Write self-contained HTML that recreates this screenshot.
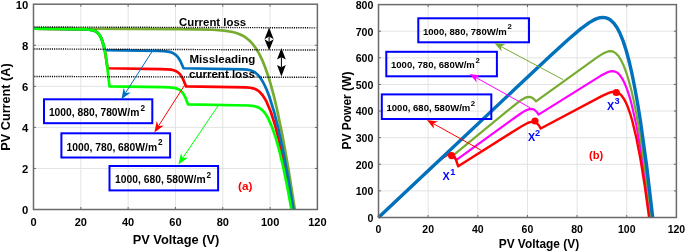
<!DOCTYPE html>
<html><head><meta charset="utf-8"><style>
html,body{margin:0;padding:0;background:#fff;width:685px;height:251px;overflow:hidden;}
svg text{font-family:"Liberation Sans",sans-serif;}
</style></head><body>
<svg width="685" height="251" viewBox="0 0 685 251" style="position:absolute;left:0;top:0;will-change:transform">
<rect width="685" height="251" fill="#fff"/>
<line x1="80.82" y1="4.2" x2="80.82" y2="209.5" stroke="#e3e3e3" stroke-width="1"/>
<line x1="128.13" y1="4.2" x2="128.13" y2="209.5" stroke="#e3e3e3" stroke-width="1"/>
<line x1="175.45" y1="4.2" x2="175.45" y2="209.5" stroke="#e3e3e3" stroke-width="1"/>
<line x1="222.77" y1="4.2" x2="222.77" y2="209.5" stroke="#e3e3e3" stroke-width="1"/>
<line x1="270.08" y1="4.2" x2="270.08" y2="209.5" stroke="#e3e3e3" stroke-width="1"/>
<line x1="33.5" y1="168.44" x2="317.4" y2="168.44" stroke="#e3e3e3" stroke-width="1"/>
<line x1="33.5" y1="127.38" x2="317.4" y2="127.38" stroke="#e3e3e3" stroke-width="1"/>
<line x1="33.5" y1="86.32" x2="317.4" y2="86.32" stroke="#e3e3e3" stroke-width="1"/>
<line x1="33.5" y1="45.26" x2="317.4" y2="45.26" stroke="#e3e3e3" stroke-width="1"/>
<path d="M33.50,28.49 L181.15,29.21 L212.56,29.74 L224.07,30.55 L232.67,31.96 L236.37,32.97 L239.68,34.20 L242.74,35.68 L245.61,37.45 L249.36,40.48 L252.85,44.20 L256.12,48.66 L259.22,53.92 L262.22,60.11 L265.14,67.27 L268.01,75.47 L270.83,84.73 L273.69,95.35 L276.55,107.22 L282.38,135.14 L288.44,169.11 L294.81,209.50" fill="none" stroke="#77AC30" stroke-width="2.7" stroke-linejoin="round"/>
<path d="M33.50,28.54 L84.96,29.37 L91.39,29.97 L93.64,30.53 L95.56,31.34 L97.69,32.86 L99.52,35.03 L101.13,37.96 L102.57,41.75 L103.92,46.58 L105.18,52.53 L107.53,68.26 L160.47,69.07 L166.96,69.30 L171.02,69.69 L173.75,70.27 L176.03,71.15 L177.99,72.37 L179.77,74.03 L181.44,76.23 L183.02,78.98 L186.01,86.37 L246.12,87.41 L249.97,87.75 L253.08,88.35 L255.67,89.28 L257.97,90.59 L260.25,92.51 L262.41,95.00 L264.53,98.14 L266.61,101.95 L270.77,111.77 L274.92,124.59 L279.14,140.59 L283.44,159.96 L287.89,182.87 L292.50,209.50" fill="none" stroke="#FF0000" stroke-width="2.7" stroke-linejoin="round"/>
<path d="M33.50,28.54 L81.44,29.26 L87.77,29.53 L91.76,30.04 L94.29,30.76 L96.37,31.82 L98.16,33.32 L99.70,35.31 L101.11,37.92 L102.40,41.22 L104.71,50.16 L157.40,50.96 L163.77,51.20 L167.81,51.59 L170.64,52.19 L172.95,53.07 L174.99,54.31 L176.85,55.98 L178.64,58.19 L180.33,60.94 L183.55,68.26 L243.23,69.30 L247.21,69.67 L250.23,70.27 L252.81,71.19 L255.15,72.53 L257.66,74.66 L260.06,77.48 L262.42,81.06 L264.75,85.44 L267.07,90.66 L269.38,96.74 L273.98,111.45 L278.63,129.85 L283.38,152.11 L288.30,178.58 L293.44,209.50" fill="none" stroke="#0072BD" stroke-width="2.7" stroke-linejoin="round"/>
<path d="M33.50,28.54 L86.36,29.44 L90.06,29.76 L92.86,30.30 L95.05,31.08 L96.92,32.21 L99.11,34.45 L100.97,37.62 L102.62,41.89 L104.12,47.43 L105.53,54.50 L106.87,63.23 L109.45,86.37 L162.69,87.17 L169.31,87.41 L173.41,87.80 L176.14,88.38 L178.36,89.23 L180.31,90.45 L182.06,92.12 L183.67,94.29 L185.20,97.04 L188.09,104.47 L248.64,105.51 L252.54,105.86 L255.65,106.46 L258.19,107.36 L260.49,108.67 L262.54,110.38 L264.50,112.58 L266.41,115.30 L268.29,118.58 L272.01,126.94 L275.74,137.82 L279.51,151.40 L283.37,167.79 L287.32,187.08 L291.42,209.50" fill="none" stroke="#00FF00" stroke-width="2.7" stroke-linejoin="round"/>
<line x1="34.3" y1="26.95" x2="316.4" y2="27.85" stroke="#000" stroke-width="1.4" stroke-dasharray="1.1 1.1"/>
<line x1="34.3" y1="48.95" x2="316.4" y2="50.05" stroke="#000" stroke-width="1.4" stroke-dasharray="1.1 1.1"/>
<line x1="34.3" y1="76.45" x2="316.4" y2="77.35" stroke="#000" stroke-width="1.4" stroke-dasharray="1.1 1.1"/>
<line x1="269.1" y1="36.492000000000004" x2="269.1" y2="41.988" stroke="#000" stroke-width="1"/>
<path d="M269.1,27.6 L264.5,39.3 L269.1,36.492000000000004 L273.70000000000005,39.3 Z" fill="#000"/>
<path d="M269.1,50.5 L264.5,39.3 L269.1,41.988 L273.70000000000005,39.3 Z" fill="#000"/>
<line x1="281.4" y1="57.28" x2="281.4" y2="67.22" stroke="#000" stroke-width="1"/>
<path d="M281.4,48.0 L277.0,59.6 L281.4,57.28 L285.79999999999995,59.6 Z" fill="#000"/>
<path d="M281.4,76.5 L277.0,64.9 L281.4,67.22 L285.79999999999995,64.9 Z" fill="#000"/>
<rect x="33.5" y="4.2" width="283.9" height="205.3" fill="none" stroke="#6a6a6a" stroke-width="1.5"/>
<line x1="80.82" y1="209.5" x2="80.82" y2="207.0" stroke="#6a6a6a"/>
<line x1="80.82" y1="4.2" x2="80.82" y2="6.7" stroke="#6a6a6a"/>
<line x1="128.13" y1="209.5" x2="128.13" y2="207.0" stroke="#6a6a6a"/>
<line x1="128.13" y1="4.2" x2="128.13" y2="6.7" stroke="#6a6a6a"/>
<line x1="175.45" y1="209.5" x2="175.45" y2="207.0" stroke="#6a6a6a"/>
<line x1="175.45" y1="4.2" x2="175.45" y2="6.7" stroke="#6a6a6a"/>
<line x1="222.77" y1="209.5" x2="222.77" y2="207.0" stroke="#6a6a6a"/>
<line x1="222.77" y1="4.2" x2="222.77" y2="6.7" stroke="#6a6a6a"/>
<line x1="270.08" y1="209.5" x2="270.08" y2="207.0" stroke="#6a6a6a"/>
<line x1="270.08" y1="4.2" x2="270.08" y2="6.7" stroke="#6a6a6a"/>
<line x1="33.5" y1="168.44" x2="36.0" y2="168.44" stroke="#6a6a6a"/>
<line x1="317.4" y1="168.44" x2="314.9" y2="168.44" stroke="#6a6a6a"/>
<line x1="33.5" y1="127.38" x2="36.0" y2="127.38" stroke="#6a6a6a"/>
<line x1="317.4" y1="127.38" x2="314.9" y2="127.38" stroke="#6a6a6a"/>
<line x1="33.5" y1="86.32" x2="36.0" y2="86.32" stroke="#6a6a6a"/>
<line x1="317.4" y1="86.32" x2="314.9" y2="86.32" stroke="#6a6a6a"/>
<line x1="33.5" y1="45.26" x2="36.0" y2="45.26" stroke="#6a6a6a"/>
<line x1="317.4" y1="45.26" x2="314.9" y2="45.26" stroke="#6a6a6a"/>
<rect x="44.0" y="99.3" width="108.30" height="23.90" fill="none" stroke="#0000FF" stroke-width="2.0"/>
<text x="48.9" y="116.2" font-size="10.3" font-weight="bold">1000, 880, 780W/m</text>
<text x="140.6" y="111.0" font-size="8.2" font-weight="bold">2</text>
<rect x="61.4" y="133.3" width="108.70" height="24.20" fill="none" stroke="#0000FF" stroke-width="2.0"/>
<text x="66.6" y="150.5" font-size="10.3" font-weight="bold">1000, 780, 680W/m</text>
<text x="158.0" y="144.9" font-size="8.2" font-weight="bold">2</text>
<rect x="109.5" y="166.0" width="108.60" height="24.40" fill="none" stroke="#0000FF" stroke-width="2.0"/>
<text x="115.1" y="183.4" font-size="10.3" font-weight="bold">1000, 680, 580W/m</text>
<text x="206.6" y="177.7" font-size="8.2" font-weight="bold">2</text>
<line x1="152.40" y1="51.00" x2="125.52" y2="92.88" stroke="#0072BD" stroke-width="1"/>
<path d="M121.40,99.30 L123.75,87.86 L125.52,92.88 L130.82,92.40 Z" fill="#0072BD"/>
<line x1="184.40" y1="85.50" x2="158.51" y2="125.97" stroke="#FF0000" stroke-width="1"/>
<path d="M154.40,132.40 L156.74,120.95 L158.51,125.97 L163.81,125.48 Z" fill="#FF0000"/>
<line x1="219.30" y1="104.00" x2="182.68" y2="158.08" stroke="#00FF00" stroke-width="1"/>
<path d="M178.40,164.40 L181.03,153.02 L182.68,158.08 L187.99,157.73 Z" fill="#00FF00"/>
<text x="179.0" y="25.5" font-size="11.4" font-weight="bold">Current loss</text>
<text x="189.5" y="62.8" font-size="11.5" font-weight="bold">Missleading</text>
<text x="189.1" y="77.9" font-size="11.5" font-weight="bold">current loss</text>
<text x="238.1" y="190.1" font-size="11.8" font-weight="bold" fill="#FF0000">(a)</text>
<text x="33.50" y="226.2" font-size="11" font-weight="bold" text-anchor="middle">0</text>
<text x="80.82" y="226.2" font-size="11" font-weight="bold" text-anchor="middle">20</text>
<text x="128.13" y="226.2" font-size="11" font-weight="bold" text-anchor="middle">40</text>
<text x="175.45" y="226.2" font-size="11" font-weight="bold" text-anchor="middle">60</text>
<text x="222.77" y="226.2" font-size="11" font-weight="bold" text-anchor="middle">80</text>
<text x="270.08" y="226.2" font-size="11" font-weight="bold" text-anchor="middle">100</text>
<text x="317.40" y="226.2" font-size="11" font-weight="bold" text-anchor="middle">120</text>
<text x="28.4" y="214.00" font-size="11.3" font-weight="bold" text-anchor="end">0</text>
<text x="28.4" y="172.94" font-size="11.3" font-weight="bold" text-anchor="end">2</text>
<text x="28.4" y="131.88" font-size="11.3" font-weight="bold" text-anchor="end">4</text>
<text x="28.4" y="90.82" font-size="11.3" font-weight="bold" text-anchor="end">6</text>
<text x="28.4" y="49.76" font-size="11.3" font-weight="bold" text-anchor="end">8</text>
<text x="28.4" y="8.70" font-size="11.3" font-weight="bold" text-anchor="end">10</text>
<text x="176" y="243.6" font-size="12.8" font-weight="bold" text-anchor="middle">PV Voltage (V)</text>
<text transform="translate(9.8,107) rotate(-90)" x="0" y="0" font-size="12.7" font-weight="bold" text-anchor="middle">PV Current (A)</text>
<line x1="428.15" y1="4.6" x2="428.15" y2="217.5" stroke="#e3e3e3" stroke-width="1"/>
<line x1="477.80" y1="4.6" x2="477.80" y2="217.5" stroke="#e3e3e3" stroke-width="1"/>
<line x1="527.45" y1="4.6" x2="527.45" y2="217.5" stroke="#e3e3e3" stroke-width="1"/>
<line x1="577.10" y1="4.6" x2="577.10" y2="217.5" stroke="#e3e3e3" stroke-width="1"/>
<line x1="626.75" y1="4.6" x2="626.75" y2="217.5" stroke="#e3e3e3" stroke-width="1"/>
<line x1="378.5" y1="190.89" x2="676.4" y2="190.89" stroke="#e3e3e3" stroke-width="1"/>
<line x1="378.5" y1="164.28" x2="676.4" y2="164.28" stroke="#e3e3e3" stroke-width="1"/>
<line x1="378.5" y1="137.66" x2="676.4" y2="137.66" stroke="#e3e3e3" stroke-width="1"/>
<line x1="378.5" y1="111.05" x2="676.4" y2="111.05" stroke="#e3e3e3" stroke-width="1"/>
<line x1="378.5" y1="84.44" x2="676.4" y2="84.44" stroke="#e3e3e3" stroke-width="1"/>
<line x1="378.5" y1="57.82" x2="676.4" y2="57.82" stroke="#e3e3e3" stroke-width="1"/>
<line x1="378.5" y1="31.21" x2="676.4" y2="31.21" stroke="#e3e3e3" stroke-width="1"/>
<path d="M378.50,217.50 L434.38,164.97 L441.38,158.72 L445.67,155.49 L447.45,154.52 L449.03,154.01 L450.43,153.92 L451.71,154.26 L452.92,155.05 L454.05,156.29 L456.18,160.21 L511.73,119.80 L519.63,114.23 L524.41,111.19 L526.90,109.92 L528.98,109.17 L530.84,108.88 L532.54,109.04 L534.14,109.68 L535.65,110.81 L537.11,112.44 L538.53,114.61 L600.17,76.09 L607.56,72.24 L610.18,71.39 L612.50,71.11 L615.21,71.59 L617.75,73.05 L620.16,75.53 L622.53,79.08 L624.87,83.78 L627.17,89.61 L629.47,96.63 L631.74,104.82 L636.32,125.10 L640.91,150.51 L645.56,181.27 L650.27,217.50" fill="none" stroke="#FF00FF" stroke-width="2.2" stroke-linejoin="round"/>
<path d="M378.50,217.50 L429.71,169.31 L441.90,158.29 L445.75,155.44 L448.68,154.09 L449.94,153.90 L451.11,154.05 L452.20,154.52 L453.22,155.33 L506.14,111.81 L519.59,101.18 L522.57,99.19 L524.97,97.91 L527.13,97.15 L529.07,96.92 L530.91,97.21 L532.66,98.04 L534.33,99.43 L535.95,101.38 L598.14,56.68 L602.20,54.09 L605.35,52.41 L608.01,51.45 L610.38,51.13 L613.27,51.69 L616.00,53.40 L618.64,56.30 L621.21,60.42 L623.75,65.82 L626.27,72.51 L628.76,80.53 L631.23,89.87 L633.70,100.65 L636.17,112.85 L641.14,141.65 L646.16,176.48 L651.26,217.50" fill="none" stroke="#77AC30" stroke-width="2.2" stroke-linejoin="round"/>
<path d="M378.50,217.50 L435.44,163.99 L442.35,157.91 L446.66,154.91 L448.60,154.11 L450.30,153.91 L451.82,154.31 L453.22,155.32 L454.54,156.99 L455.80,159.35 L458.20,166.26 L514.06,130.91 L522.12,125.99 L526.81,123.45 L529.28,122.41 L531.39,121.85 L533.24,121.76 L534.89,122.12 L536.45,122.95 L537.92,124.28 L539.34,126.13 L540.71,128.54 L602.21,95.92 L609.47,92.70 L612.04,91.98 L614.27,91.75 L616.85,92.16 L619.22,93.38 L621.47,95.44 L623.65,98.43 L625.81,102.39 L627.93,107.33 L630.03,113.28 L632.11,120.25 L636.32,137.66 L640.55,159.58 L644.81,186.16 L649.14,217.50" fill="none" stroke="#FF0000" stroke-width="2.4" stroke-linejoin="round"/>
<path d="M378.50,217.50 L517.02,87.03 L550.93,55.32 L568.52,39.23 L580.67,28.85 L589.59,22.37 L593.40,20.17 L596.85,18.63 L600.02,17.72 L602.93,17.42 L604.93,17.58 L606.85,18.06 L608.69,18.84 L610.47,19.96 L613.88,23.19 L617.10,27.78 L620.21,33.81 L623.24,41.37 L626.18,50.48 L629.09,61.25 L632.02,73.97 L634.92,88.47 L637.83,104.86 L640.76,123.32 L646.68,166.28 L652.70,217.50" fill="none" stroke="#0072BD" stroke-width="3.4" stroke-linejoin="round"/>
<circle cx="451.6" cy="155.6" r="3.6" fill="#FF0000"/>
<circle cx="535.0" cy="121.0" r="3.6" fill="#FF0000"/>
<circle cx="616.3" cy="92.5" r="3.6" fill="#FF0000"/>
<rect x="418.3" y="18.3" width="110.70" height="24.00" fill="none" stroke="#0000FF" stroke-width="2.0"/>
<text x="423.0" y="34.5" font-size="9.55" font-weight="bold">1000, 880, 780W/m</text>
<text x="507.4" y="29.3" font-size="7.8" font-weight="bold">2</text>
<rect x="386.3" y="51.8" width="110.60" height="24.50" fill="none" stroke="#0000FF" stroke-width="2.0"/>
<text x="391.0" y="68.3" font-size="9.55" font-weight="bold">1000, 780, 680W/m</text>
<text x="475.4" y="62.9" font-size="7.8" font-weight="bold">2</text>
<rect x="381.8" y="94.4" width="109.50" height="24.60" fill="none" stroke="#0000FF" stroke-width="2.0"/>
<text x="386.5" y="110.7" font-size="9.55" font-weight="bold">1000, 680, 580W/m</text>
<text x="470.7" y="105.5" font-size="7.8" font-weight="bold">2</text>
<line x1="563.00" y1="79.60" x2="500.82" y2="46.43" stroke="#77AC30" stroke-width="1"/>
<path d="M494.40,43.00 L505.51,44.28 L500.82,46.43 L501.65,51.51 Z" fill="#77AC30"/>
<line x1="530.00" y1="107.70" x2="475.95" y2="77.46" stroke="#FF00FF" stroke-width="1"/>
<path d="M469.60,73.90 L480.68,75.40 L475.95,77.46 L476.67,82.56 Z" fill="#FF00FF"/>
<line x1="481.00" y1="150.20" x2="433.26" y2="123.55" stroke="#FF0000" stroke-width="1"/>
<path d="M426.90,120.00 L437.98,121.49 L433.26,123.55 L433.98,128.65 Z" fill="#FF0000"/>
<text x="442.6" y="180.1" font-size="10.8" font-weight="bold" fill="#0000FF">X</text>
<text x="450.3" y="174.8" font-size="9.2" font-weight="bold" fill="#0000FF">1</text>
<text x="527.9" y="141.4" font-size="10.8" font-weight="bold" fill="#0000FF">X</text>
<text x="535.0" y="135.8" font-size="9.2" font-weight="bold" fill="#0000FF">2</text>
<text x="607.0" y="109.7" font-size="10.8" font-weight="bold" fill="#0000FF">X</text>
<text x="614.6" y="104.4" font-size="9.2" font-weight="bold" fill="#0000FF">3</text>
<text x="589.0" y="158.6" font-size="11.2" font-weight="bold" fill="#FF0000">(b)</text>
<rect x="378.5" y="4.6" width="297.9" height="212.9" fill="none" stroke="#6a6a6a" stroke-width="1.5"/>
<line x1="428.15" y1="217.5" x2="428.15" y2="215.0" stroke="#6a6a6a"/>
<line x1="428.15" y1="4.6" x2="428.15" y2="7.1" stroke="#6a6a6a"/>
<line x1="477.80" y1="217.5" x2="477.80" y2="215.0" stroke="#6a6a6a"/>
<line x1="477.80" y1="4.6" x2="477.80" y2="7.1" stroke="#6a6a6a"/>
<line x1="527.45" y1="217.5" x2="527.45" y2="215.0" stroke="#6a6a6a"/>
<line x1="527.45" y1="4.6" x2="527.45" y2="7.1" stroke="#6a6a6a"/>
<line x1="577.10" y1="217.5" x2="577.10" y2="215.0" stroke="#6a6a6a"/>
<line x1="577.10" y1="4.6" x2="577.10" y2="7.1" stroke="#6a6a6a"/>
<line x1="626.75" y1="217.5" x2="626.75" y2="215.0" stroke="#6a6a6a"/>
<line x1="626.75" y1="4.6" x2="626.75" y2="7.1" stroke="#6a6a6a"/>
<line x1="378.5" y1="190.89" x2="381.0" y2="190.89" stroke="#6a6a6a"/>
<line x1="676.4" y1="190.89" x2="673.9" y2="190.89" stroke="#6a6a6a"/>
<line x1="378.5" y1="164.28" x2="381.0" y2="164.28" stroke="#6a6a6a"/>
<line x1="676.4" y1="164.28" x2="673.9" y2="164.28" stroke="#6a6a6a"/>
<line x1="378.5" y1="137.66" x2="381.0" y2="137.66" stroke="#6a6a6a"/>
<line x1="676.4" y1="137.66" x2="673.9" y2="137.66" stroke="#6a6a6a"/>
<line x1="378.5" y1="111.05" x2="381.0" y2="111.05" stroke="#6a6a6a"/>
<line x1="676.4" y1="111.05" x2="673.9" y2="111.05" stroke="#6a6a6a"/>
<line x1="378.5" y1="84.44" x2="381.0" y2="84.44" stroke="#6a6a6a"/>
<line x1="676.4" y1="84.44" x2="673.9" y2="84.44" stroke="#6a6a6a"/>
<line x1="378.5" y1="57.82" x2="381.0" y2="57.82" stroke="#6a6a6a"/>
<line x1="676.4" y1="57.82" x2="673.9" y2="57.82" stroke="#6a6a6a"/>
<line x1="378.5" y1="31.21" x2="381.0" y2="31.21" stroke="#6a6a6a"/>
<line x1="676.4" y1="31.21" x2="673.9" y2="31.21" stroke="#6a6a6a"/>
<text x="378.50" y="233.4" font-size="10.5" font-weight="bold" text-anchor="middle">0</text>
<text x="428.15" y="233.4" font-size="10.5" font-weight="bold" text-anchor="middle">20</text>
<text x="477.80" y="233.4" font-size="10.5" font-weight="bold" text-anchor="middle">40</text>
<text x="527.45" y="233.4" font-size="10.5" font-weight="bold" text-anchor="middle">60</text>
<text x="577.10" y="233.4" font-size="10.5" font-weight="bold" text-anchor="middle">80</text>
<text x="626.75" y="233.4" font-size="10.5" font-weight="bold" text-anchor="middle">100</text>
<text x="676.40" y="233.4" font-size="10.5" font-weight="bold" text-anchor="middle">120</text>
<text x="373.4" y="221.90" font-size="10.6" font-weight="bold" text-anchor="end">0</text>
<text x="373.4" y="195.29" font-size="10.6" font-weight="bold" text-anchor="end">100</text>
<text x="373.4" y="168.68" font-size="10.6" font-weight="bold" text-anchor="end">200</text>
<text x="373.4" y="142.06" font-size="10.6" font-weight="bold" text-anchor="end">300</text>
<text x="373.4" y="115.45" font-size="10.6" font-weight="bold" text-anchor="end">400</text>
<text x="373.4" y="88.84" font-size="10.6" font-weight="bold" text-anchor="end">500</text>
<text x="373.4" y="62.22" font-size="10.6" font-weight="bold" text-anchor="end">600</text>
<text x="373.4" y="35.61" font-size="10.6" font-weight="bold" text-anchor="end">700</text>
<text x="373.4" y="9.00" font-size="10.6" font-weight="bold" text-anchor="end">800</text>
<text x="538.9" y="247.6" font-size="11.9" font-weight="bold" text-anchor="middle">PV Voltage (V)</text>
<text transform="translate(351.2,110.6) rotate(-90)" x="0" y="0" font-size="12" font-weight="bold" text-anchor="middle">PV Power (W)</text>
</svg>
</body></html>
